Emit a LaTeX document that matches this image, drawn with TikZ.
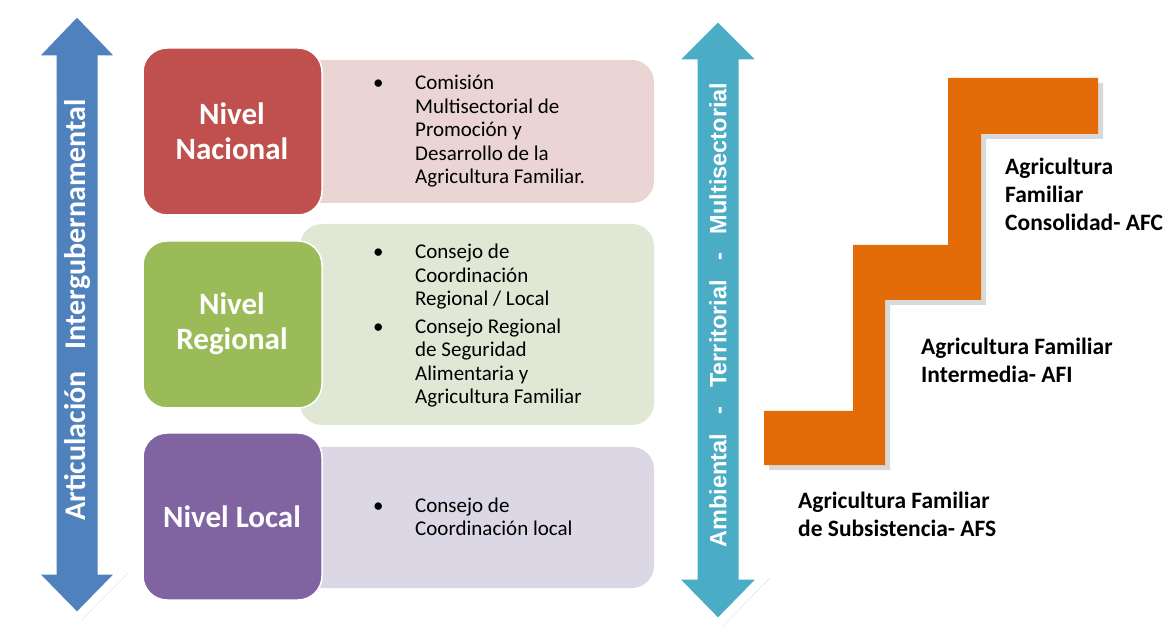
\documentclass[tikz,border=0pt]{standalone}
\usepackage{fontspec}
\setmainfont{Carlito}
\newfontfamily\arialfont{Liberation Sans}
\usetikzlibrary{shadows}

\definecolor{nacional}{HTML}{C0504D}
\definecolor{regional}{HTML}{9BBB59}
\definecolor{local}{HTML}{8064A2}
\definecolor{nacionalL}{HTML}{EAD5D4}
\definecolor{regionalL}{HTML}{E0E8D5}
\definecolor{localL}{HTML}{DBD7E4}
\definecolor{ejeazul}{HTML}{4F81BD}
\definecolor{ejeturq}{HTML}{4BACC6}
\definecolor{escalon}{HTML}{E36C09}

\begin{document}
\begin{tikzpicture}[x=1pt,y=-1pt,
    nivel/.style={fill=#1, draw=white, line width=1.5pt, rounded corners=24pt},
    detalle/.style={fill=#1, draw=none, rounded corners=22pt},
    eje/.style={fill=#1, draw=white, line width=9pt, line join=miter,
      drop shadow={opacity=0.3, shadow xshift=4pt, shadow yshift=-3pt}},
    titulo/.style={text=white, font=\fontsize{31}{35}\selectfont\bfseries, align=center},
    lista/.style={anchor=base west, inner sep=0pt, font=\fontsize{21}{23.5}\selectfont},
    etapa/.style={anchor=base west, inner sep=0pt, font=\fontsize{23.5}{28}\selectfont\bfseries}]
    \useasboundingbox (0,0) rectangle (1171,636);

    % ejes de articulacion
    \draw[eje=ejeazul] (77,11) -- (124,60) -- (102,60) -- (102,570) -- (124,570) -- (77,618)
        -- (30,570) -- (52,570) -- (52,60) -- (30,60) -- cycle;
    \draw[eje=ejeturq] (718,16) -- (766,64) -- (743,64) -- (743,575) -- (766,575) -- (718,624)
        -- (670,575) -- (693,575) -- (693,64) -- (670,64) -- cycle;
    \node[rotate=90, text=white, font=\fontsize{30}{32}\selectfont\bfseries] (intergub) at (77,310)
        {Articulación\hspace{22pt}Intergubernamental};
    \node[rotate=90, text=white, font=\arialfont\fontsize{23.5}{26}\selectfont\bfseries] (multisec) at (718,315)
        {Ambiental\hspace{19pt}-\hspace{19pt}Territorial\hspace{19pt}-\hspace{19pt}Multisectorial};

    % cajas de detalle
    \fill[detalle=nacionalL] (300,60) rectangle (654,203);
    \fill[detalle=regionalL] (300,224) rectangle (654,425);
    \fill[detalle=localL] (300,447) rectangle (654,588);

    % niveles
    \draw[nivel=nacional] (143,48) rectangle (322,215);
    \draw[nivel=regional] (143,241) rectangle (322,408);
    \draw[nivel=local] (143,433) rectangle (322,600);
    \node[titulo] (nacional) at (232,131) {Nivel\\Nacional};
    \node[titulo] (regional) at (232,324) {Nivel\\Regional};
    \node[titulo] (local) at (232,517) {Nivel Local};

    \node[lista] (comision) at (373,90) {\begin{tabular}[t]{@{}p{42pt}@{}l@{}}
        \textbullet & Comisión\\
        & Multisectorial de\\
        & Promoción y\\
        & Desarrollo de la\\
        & Agricultura Familiar.
      \end{tabular}};
    \node[lista] (consejos) at (373,259) {\begin{tabular}[t]{@{}p{42pt}@{}l@{}}
        \textbullet & Consejo de\\
        & Coordinación\\
        & Regional / Local\\[4pt]
        \textbullet & Consejo Regional\\
        & de Seguridad\\
        & Alimentaria y\\
        & Agricultura Familiar
      \end{tabular}};
    \node[lista] (coordlocal) at (373,512) {\begin{tabular}[t]{@{}p{42pt}@{}l@{}}
        \textbullet & Consejo de\\
        & Coordinación local
      \end{tabular}};

    % escalera
    \fill[escalon, drop shadow={opacity=0.3, shadow xshift=5pt, shadow yshift=-5pt}]
        (948,78) -- (1098,78) -- (1098,134) -- (981,134) -- (981,300) -- (885,300) -- (885,465)
        -- (764,465) -- (764,411) -- (853,411) -- (853,245) -- (948,245) -- cycle;
    \node[etapa] (afc) at (1005,175) {\begin{tabular}[t]{@{}l@{}}Agricultura\\ Familiar\\ Consolidad- AFC\end{tabular}};
    \node[etapa] (afi) at (921,355) {\begin{tabular}[t]{@{}l@{}}Agricultura Familiar\\ Intermedia- AFI\end{tabular}};
    \node[etapa] (afs) at (798,508) {\begin{tabular}[t]{@{}l@{}}Agricultura Familiar\\ de Subsistencia- AFS\end{tabular}};
\end{tikzpicture}
\end{document}
